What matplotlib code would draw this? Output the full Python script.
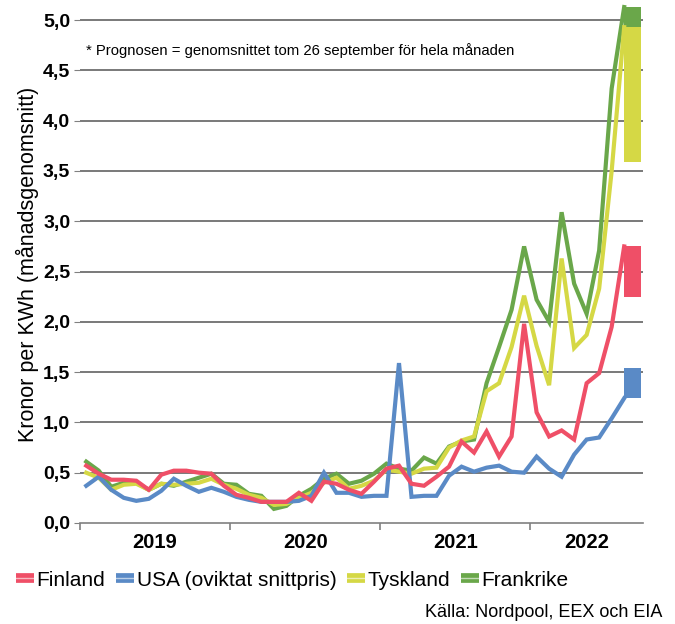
import numpy as np
import matplotlib
matplotlib.use("Agg")
import matplotlib.pyplot as plt
from matplotlib.lines import Line2D

plt.rcParams['font.family'] = ['Liberation Sans', 'DejaVu Sans']

# monthly averages, Jan 2019 - Aug 2022 (kr/kWh)
finland = [0.57, 0.49, 0.43, 0.43, 0.42, 0.33, 0.48, 0.52, 0.52, 0.50, 0.49, 0.37,
           0.28, 0.25, 0.21, 0.21, 0.21, 0.30, 0.22, 0.41, 0.39, 0.33, 0.29, 0.41,
           0.54, 0.57, 0.39, 0.37, 0.46, 0.56, 0.81, 0.70, 0.91, 0.66, 0.86, 1.98,
           1.10, 0.86, 0.92, 0.83, 1.39, 1.49, 1.95, 2.75]
usa = [0.37, 0.46, 0.33, 0.25, 0.22, 0.24, 0.32, 0.44, 0.37, 0.31, 0.35, 0.31,
       0.26, 0.23, 0.21, 0.21, 0.21, 0.22, 0.27, 0.50, 0.30, 0.30, 0.26, 0.27,
       0.27, 1.59, 0.26, 0.27, 0.27, 0.47, 0.56, 0.51, 0.55, 0.57, 0.51, 0.50,
       0.66, 0.54, 0.46, 0.68, 0.83, 0.85, 1.04, 1.24]
tyskland = [0.50, 0.45, 0.33, 0.38, 0.39, 0.33, 0.39, 0.38, 0.39, 0.40, 0.44, 0.38,
            0.34, 0.28, 0.25, 0.18, 0.19, 0.25, 0.30, 0.40, 0.45, 0.34, 0.37, 0.42,
            0.53, 0.51, 0.49, 0.54, 0.55, 0.75, 0.82, 0.86, 1.31, 1.39, 1.75, 2.26,
            1.76, 1.37, 2.63, 1.74, 1.87, 2.33, 3.50, 4.93]
frankrike = [0.61, 0.52, 0.36, 0.40, 0.40, 0.33, 0.39, 0.37, 0.41, 0.45, 0.49, 0.39,
             0.38, 0.29, 0.27, 0.14, 0.17, 0.27, 0.34, 0.44, 0.49, 0.39, 0.42, 0.49,
             0.59, 0.54, 0.52, 0.65, 0.59, 0.76, 0.81, 0.83, 1.39, 1.75, 2.12, 2.75,
             2.22, 2.00, 3.09, 2.38, 2.08, 2.71, 4.32, 5.13]

# September 2022 forecast ranges (low, high)
prognos_low = [2.25, 1.24, 3.59, 4.93]
prognos_high = [2.75, 1.54, 4.93, 5.13]

names = ['Finland', 'USA (oviktat snittpris)', 'Tyskland', 'Frankrike']
colors = ['#EF4F67', '#5A8AC6', '#D5D845', '#6AA74A']
years = ['2019', '2020', '2021', '2022']

series = [finland, usa, tyskland, frankrike]
months = np.arange(len(finland))
sep = len(finland)  # index of Sep 2022

fig = plt.figure(figsize=(6.75, 6.24), dpi=100)
ax = fig.add_axes([0.1185, 0.1619, 0.834, 0.830])

for y_grid in np.arange(0.5, 5.01, 0.5):
    ax.axhline(y_grid, color='#555555', lw=1.1, zorder=0)

# forecast bars
for lo, hi, c in zip(prognos_low, prognos_high, colors):
    ax.bar(sep - 1, hi - lo, bottom=lo, width=1.35, align='edge', color=c, zorder=2)

for vals, c in list(zip(series, colors))[::-1]:
    ax.plot(months, vals, color=c, lw=3, solid_joinstyle='miter', zorder=3, clip_on=False)

ax.set_xlim(-0.5, 44.5)
ax.set_ylim(0, 5.15)

ax.spines['top'].set_visible(False)
ax.spines['right'].set_visible(False)
ax.spines['left'].set_visible(False)
ax.spines['bottom'].set_color('#808080')
ax.spines['bottom'].set_linewidth(1.2)

yt = np.arange(0, 5.01, 0.5)
ax.set_yticks(yt)
ax.set_yticklabels([f'{v:.1f}'.replace('.', ',') for v in yt], fontsize=14, fontweight='bold')
ax.tick_params(axis='y', length=4, color='#808080', pad=3)

ax.set_xticks([-0.5, 11.5, 23.5, 35.5])
ax.set_xticklabels([])
ax.set_xticks([5.5, 17.5, 29.5, 40], minor=True)
ax.set_xticklabels(years, minor=True, fontsize=14.5, fontweight='bold')
ax.tick_params(axis='x', which='major', length=5, color='#808080', width=1.2)
ax.tick_params(axis='x', which='minor', length=0, pad=7)

ax.set_ylabel('Kronor per KWh (månadsgenomsnitt)', fontsize=15.5, labelpad=3)

ax.text(0.0, 4.7, '* Prognosen = genomsnittet tom 26 september för hela månaden',
        fontsize=10.7, va='center', ha='left')

handles = [(Line2D([], [], color=c, lw=7, solid_capstyle='butt'),
            Line2D([], [], color='white', lw=1, alpha=0.6)) for c in colors]
fig.legend(handles, names, loc='center left', bbox_to_anchor=(0.024, 0.0705),
           ncol=4, frameon=False, fontsize=15, handlelength=0.86,
           handletextpad=0.12, columnspacing=0.52, borderpad=0, borderaxespad=0)

fig.text(0.982, 0.019, 'Källa: Nordpool, EEX och EIA', fontsize=13, ha='right', va='center')

fig.savefig('out.png', dpi=100)
